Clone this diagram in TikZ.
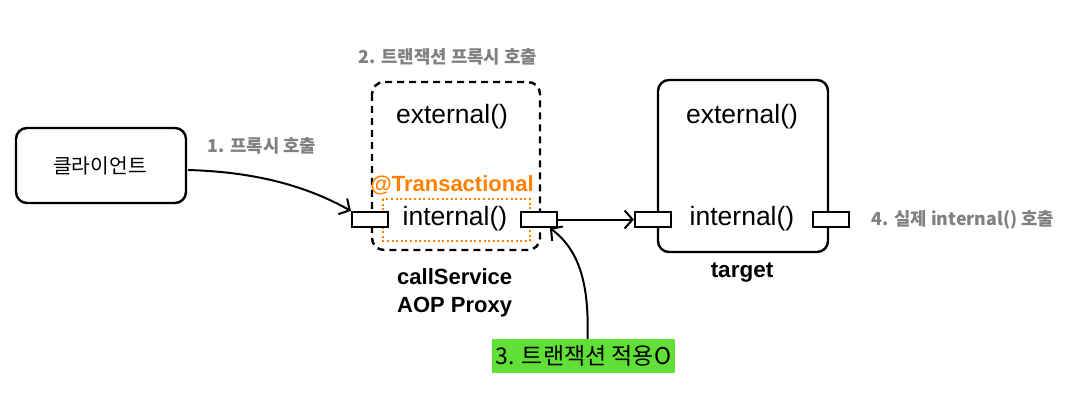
\documentclass[tikz,border=0pt]{standalone}
\usepackage{fontspec}
\setmainfont{Liberation Sans}
\newfontfamily\kr{Noto Sans CJK KR}
\usetikzlibrary{arrows.meta,calc}
\definecolor{lblgray}{RGB}{128,128,128}
\definecolor{orng}{RGB}{255,128,0}
\definecolor{grn}{RGB}{96,223,54}
\begin{document}
\begin{tikzpicture}[x=1pt,y=-1pt,
  box/.style={draw,line width=2.4pt,rounded corners=11pt},
  port/.style={draw,fill=white,line width=2.2pt,minimum width=36pt,minimum height=15pt,inner sep=0pt},
  method/.style={font=\fontsize{26.5}{30}\selectfont,inner sep=0pt},
  steplbl/.style={font=\kr\bfseries\fontsize{17.8}{20}\selectfont,text=lblgray,inner sep=0pt},
  conn/.style={line width=2pt,-{Straight Barb[length=8pt,width=18pt,line width=2pt]}}
]
\useasboundingbox (0,0) rectangle (1077,401);
% client
\draw[box] (16,128) rectangle (186,203);
\node[font=\kr\fontsize{20.3}{24}\selectfont,inner sep=0pt] (client) at (100,165.5) {클라이언트};
\coordinate (clientE) at (188,170);
% proxy
\draw[line width=2.4pt,rounded corners=12pt,dash pattern=on 7pt off 5pt] (372,82) rectangle (540,250);
\draw[orng,line width=2.6pt,dash pattern=on 2pt off 2.6pt] (383,199) rectangle (530,241);
\node[method] (pext) at (452,117) {external()};
\node[font=\bfseries\fontsize{22}{26}\selectfont,text=orng,inner sep=0pt] (trans) at (452,185) {@Transactional};
\node[method] (pint) at (455,219) {internal()};
\node[port] (PL) at (370,219.5) {};
\node[port] (PR) at (539,219.5) {};
\node[steplbl] (l2) at (448,57) {2. 트랜잭션 프록시 호출};
\node[align=left,anchor=north west,inner sep=0pt,font=\bfseries\fontsize{22}{28.5}\selectfont] (pcap) at (397,268) {callService\\AOP Proxy};
% target
\draw[box] (658,80) rectangle (828,252);
\node[method] (text) at (742,117) {external()};
\node[method] (tint) at (742,219) {internal()};
\node[port] (TL) at (653,219.5) {};
\node[port] (TR) at (831,219.5) {};
\node[font=\bfseries\fontsize{22.5}{26}\selectfont,inner sep=0pt] (tcap) at (742,273) {target};
\node[steplbl] (l4) at (963,220) {4. 실제 internal() 호출};
% labels
\node[steplbl] (l1) at (262,146) {1. 프록시 호출};
\node[fill=grn,minimum width=183pt,minimum height=34pt,inner sep=0pt,font=\kr\fontsize{23}{26}\selectfont] (green) at (583.5,356) {3. 트랜잭션 적용O};
% connectors
\draw[conn] (clientE) .. controls (260,172) and (310,188) .. (PL.north west);
\draw[conn] (PR.east) -- (TL.west);
\draw[conn] ([xshift=4pt]green.north) .. controls (589,290) and (582,252) .. ([xshift=11pt]PR.south);
\end{tikzpicture}
\end{document}
